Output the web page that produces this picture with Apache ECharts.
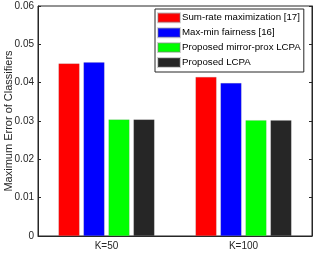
<!DOCTYPE html>
<html>
<head>
<meta charset="utf-8">
<script src="https://cdn.jsdelivr.net/npm/echarts@6/dist/echarts.min.js"></script>
<style>html,body{margin:0;padding:0;background:#fff}#c{width:316px;height:253px}</style>
</head>
<body>
<div id="c"></div>
<script>
const categories = ['K=50', 'K=100'];
const seriesNames = ['Sum-rate maximization [17]', 'Max-min fairness [16]', 'Proposed mirror-prox LCPA', 'Proposed LCPA'];
const sumRate = [0.0450, 0.0415];
const maxMin = [0.0453, 0.0399];
const mirrorProx = [0.0304, 0.0302];
const lcpa = [0.0304, 0.0302];
const yTicks = [0, 0.01, 0.02, 0.03, 0.04, 0.05, 0.06];
const colors = ['#ff0000', '#0000ff', '#00ff00', '#262626'];
const values = [sumRate, maxMin, mirrorProx, lcpa];

const font = 'Liberation Sans, Arial, Helvetica, sans-serif';
const chart = echarts.init(document.getElementById('c'), null, {renderer: 'canvas'});
chart.setOption({
  animation: false,
  backgroundColor: '#fff',
  grid: {left: 38, right: 4, top: 6, bottom: 17, show: true, borderColor: '#262626', borderWidth: 1,
         containLabel: false, outerBoundsMode: 'none'},
  legend: {
    orient: 'vertical', left: 155, top: 9,
    data: seriesNames,
    itemWidth: 22, itemHeight: 9, itemGap: 3.9,
    padding: [3.3, 3, 4, 2],
    backgroundColor: '#fff', borderColor: '#262626', borderWidth: 1,
    icon: 'rect',
    textStyle: {fontFamily: font, fontSize: 9.7, lineHeight: 9, color: '#000', padding: [0, 0, 0, -3]}
  },
  xAxis: [{
    type: 'category', data: categories,
    axisLine: {show: true, lineStyle: {color: '#262626', width: 1}},
    axisTick: {show: false},
    axisLabel: {fontFamily: font, fontSize: 10, color: '#262626', margin: 5}
  }],
  yAxis: [{
    type: 'value', min: yTicks[0], max: yTicks[yTicks.length - 1], interval: 0.01,
    name: 'Maximum Error of Classifiers', nameLocation: 'middle', nameGap: 24, nameMoveOverlap: false,
    nameTextStyle: {fontFamily: font, fontSize: 11, color: '#262626'},
    axisLine: {show: true, lineStyle: {color: '#262626', width: 1}},
    axisTick: {show: true, inside: true, length: 3, lineStyle: {color: '#262626'}},
    splitLine: {show: false},
    axisLabel: {fontFamily: font, fontSize: 10, color: '#262626', margin: 4,
      formatter: v => (Math.abs(v) < 1e-9 ? '0' : v.toFixed(2))}
  }, {
    type: 'value', position: 'right', min: yTicks[0], max: yTicks[yTicks.length - 1], interval: 0.01,
    axisLine: {show: true, lineStyle: {color: '#262626', width: 1}},
    axisTick: {show: true, inside: true, length: 3, lineStyle: {color: '#262626'}},
    splitLine: {show: false},
    axisLabel: {show: false}
  }],
  series: seriesNames.map((n, i) => ({
    name: n, type: 'bar', data: values[i],
    barWidth: 21, barGap: '19%',
    itemStyle: {color: colors[i], borderColor: 'rgba(120,120,120,0.35)', borderWidth: 0.5}
  }))
});
</script>
</body>
</html>
